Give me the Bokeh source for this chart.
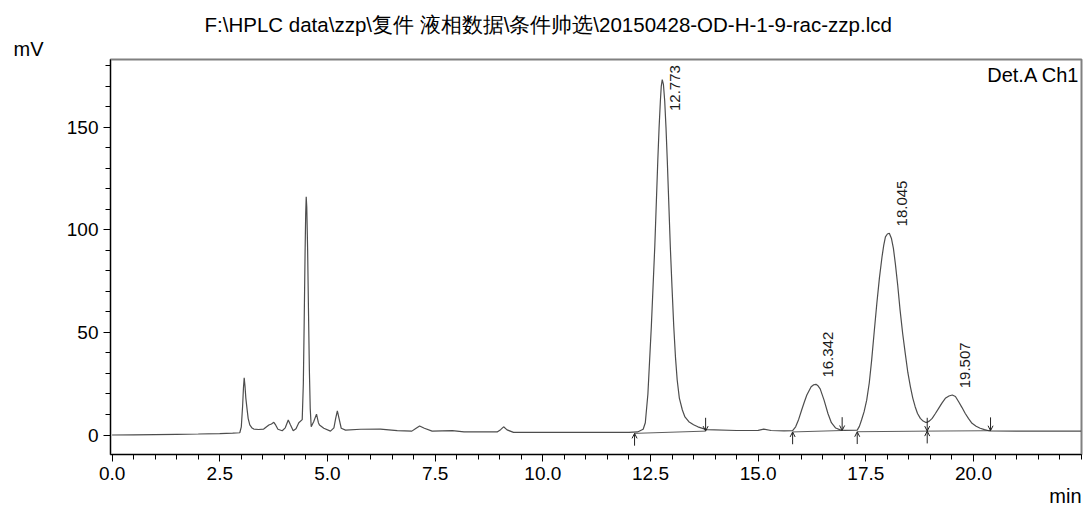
import math
from bokeh.plotting import figure
from bokeh.models import (Range1d, FixedTicker, NumeralTickFormatter, Label, Title,
                          Arrow, OpenHead, ColumnDataSource)
from bokeh.core.properties import value
from bokeh.embed import file_html
from bokeh.resources import INLINE

# ---------------- data ----------------
time_min = [0.0, 0.5, 1.0, 1.5, 2.0, 2.5, 2.8, 2.965, 3.00, 3.03, 3.05, 3.067,
            3.085, 3.105, 3.137, 3.16, 3.197, 3.25, 3.29, 3.40, 3.52, 3.64,
            3.70, 3.755, 3.80, 3.85, 3.95, 4.02, 4.09, 4.14, 4.205, 4.27,
            4.335, 4.414, 4.44, 4.46, 4.48, 4.495, 4.507, 4.52, 4.54, 4.56,
            4.58, 4.60, 4.623, 4.68, 4.746, 4.79, 4.815, 4.915, 5.07, 5.15,
            5.19, 5.23, 5.27, 5.32, 5.42, 5.77, 6.23, 6.62, 6.96, 7.05, 7.14,
            7.25, 7.43, 7.90, 8.17, 8.94, 9.02, 9.09, 9.17, 9.32, 10.1, 11.65,
            12.0, 12.2, 12.33, 12.38, 12.44, 12.52, 12.60, 12.67, 12.70, 12.73,
            12.75, 12.773, 12.80, 12.83, 12.86, 12.89, 12.96, 13.00, 13.04, 13.08,
            13.12, 13.17, 13.24, 13.30, 13.39, 13.50, 13.60, 13.80, 14.5, 15.0,
            15.13, 15.3, 15.6, 15.80,
            15.87, 15.94, 16.01, 16.07, 16.13, 16.23, 16.29, 16.342, 16.39, 16.44,
            16.53, 16.62, 16.70, 16.80, 16.92, 17.00, 17.30, 17.35, 17.40, 17.46,
            17.52, 17.58, 17.635, 17.695, 17.755, 17.815, 17.875, 17.915, 17.955,
            18.00, 18.045, 18.095, 18.14, 18.185, 18.24, 18.295, 18.355, 18.415,
            18.475, 18.535, 18.59, 18.645, 18.70, 18.765, 18.83, 18.885, 18.925,
            18.98, 19.04, 19.115, 19.19, 19.27, 19.345, 19.43, 19.507, 19.58,
            19.655, 19.73, 19.805, 19.885, 19.965, 20.06, 20.155, 20.255, 20.355,
            20.40, 21.0, 22.5]
signal_mv = [0.0, 0.1, 0.2, 0.35, 0.5, 0.7, 0.9, 1.1, 4.0, 14.0, 23.0, 27.9,
             24.0, 18.0, 12.0, 8.0, 4.9, 3.4, 2.9, 2.7, 2.9, 4.9,
             5.4, 6.2, 4.8, 2.8, 2.1, 3.5, 7.3, 5.0, 2.1, 3.0,
             6.0, 7.5, 25.0, 55.0, 88.0, 108.0, 116.2, 111.0, 90.0, 60.0,
             32.0, 13.0, 4.0, 6.5, 10.2, 6.0, 4.9, 3.3, 1.9, 3.5,
             8.0, 11.8, 8.0, 3.3, 2.4, 2.8, 2.9, 2.1, 1.9, 3.2, 4.4,
             3.3, 1.9, 2.1, 1.5, 1.5, 2.6, 4.0, 2.5, 1.3, 1.3, 1.3,
             1.3, 1.5, 2.8, 6.0, 20.0, 53.0, 92.0, 134.0, 150.0, 163.0,
             170.0, 173.3, 171.0, 163.0, 150.0, 134.0, 92.0, 72.0, 53.0, 38.0,
             26.8, 18.0, 12.2, 8.8, 6.5, 5.0, 4.0, 2.6, 2.2, 2.3,
             2.9, 2.2, 2.0, 2.1,
             4.0, 7.6, 12.2, 16.0, 19.5, 23.5, 24.5, 24.7, 24.0, 22.5,
             17.0, 10.5, 6.0, 3.4, 2.4, 2.3, 2.4, 4.2, 7.3, 11.4,
             17.0, 25.5, 36.5, 50.5, 64.1, 76.5, 86.8, 92.5, 96.6,
             98.0, 98.4, 95.8, 91.0, 83.6, 73.0, 60.9, 49.5, 39.8,
             30.5, 23.5, 18.0, 13.8, 10.5, 8.1, 6.8, 6.2, 6.2,
             6.9, 8.1, 10.5, 13.0, 15.7, 17.9, 19.0, 19.5, 18.8,
             16.2, 13.5, 10.6, 8.0, 5.7, 4.3, 3.3, 2.6, 2.1,
             2.0, 1.9, 1.9]

peak_times = [12.773, 16.342, 18.045, 19.507]
peak_heights = [173.3, 24.7, 98.4, 19.5]
peak_labels = ["12.773", "16.342", "18.045", "19.507"]

start_marks = [12.13, 15.80, 17.30, 18.925]
start_levels = [0.8, 1.5, 1.6, 1.9]
end_marks = [13.78, 16.95, 18.925, 20.395]
end_levels = [1.9, 2.2, 1.9, 2.1]

x_major = [0.0, 2.5, 5.0, 7.5, 10.0, 12.5, 15.0, 17.5, 20.0]
x_minor = [i * 0.5 for i in range(46)]
y_major = [0, 50, 100, 150]
y_minor = [i * 10 for i in range(19)]

title_text = "F:\\HPLC data\\zzp\\复件 液相数据\\条件帅选\\20150428-OD-H-1-9-rac-zzp.lcd"

# ---------------- figure ----------------
X0, X1 = -0.037, 22.507
Y0, Y1 = -9.5, 183.1
W, H = 1083, 510
BL, BR, BT, BB = 110, 2, 59, 56
FONT = "Liberation Sans"

p = figure(width=W, height=H, output_backend="svg", toolbar_location=None,
           title=None,
           x_range=Range1d(X0, X1), y_range=Range1d(Y0, Y1),
           min_border_left=BL, min_border_right=BR, min_border_top=BT,
           min_border_bottom=BB)
p.background_fill_color = "white"
p.border_fill_color = "white"
p.outline_line_color = "#808080"
p.outline_line_width = 2
p.grid.visible = False

for ax in (p.xaxis[0], p.yaxis[0]):
    ax.axis_line_color = "black"
    ax.axis_line_width = 1
    ax.major_tick_line_color = "black"
    ax.minor_tick_line_color = "black"
    ax.major_tick_out = 7
    ax.major_tick_in = 0
    ax.minor_tick_out = 5
    ax.minor_tick_in = 0
    ax.major_label_text_font = FONT
    ax.major_label_text_font_size = "19px"
    ax.major_label_text_color = "black"
    ax.major_label_standoff = 5

p.xaxis[0].ticker = FixedTicker(ticks=x_major, minor_ticks=x_minor)
p.yaxis[0].ticker = FixedTicker(ticks=y_major, minor_ticks=y_minor)
p.xaxis[0].formatter = NumeralTickFormatter(format="0.0")
p.yaxis[0].formatter = NumeralTickFormatter(format="0")

# trace
p.line(time_min, signal_mv, line_color="#4d4d4d", line_width=1.2)

# integration baselines
p.segment(x0=start_marks, y0=start_levels, x1=end_marks, y1=end_levels,
          line_color="#333333", line_width=0.8)

# peak start (up) and end (down) markers
up_src = ColumnDataSource(dict(x=start_marks, y0=[v - 6.0 for v in start_levels],
                               y1=start_levels))
dn_src = ColumnDataSource(dict(x=end_marks, y0=[v + 6.5 for v in end_levels],
                               y1=end_levels))
for src in (up_src, dn_src):
    p.add_layout(Arrow(end=OpenHead(size=5, line_width=1, line_color="#222222"),
                       x_start="x", y_start="y0", x_end="x", y_end="y1",
                       line_color="#222222", line_width=1, source=src))

# peak labels (rotated)
lbl_x = [t + 0.29 for t in peak_times]
lbl_y = [min(h + 3.3, 158.0) for h in peak_heights]
p.text(x=lbl_x, y=lbl_y, text=peak_labels, angle=math.pi / 2,
       text_align="left", text_baseline="middle",
       text_font=value(FONT), text_font_size="15px", text_color="#1a1a1a")

# detector label inside the frame
def tx(cx):
    return X0 + (cx - BL) / (W - BL - BR) * (X1 - X0)

def ty(cy):
    return Y1 - (cy - BT) / (H - BT - BB) * (Y1 - Y0)

p.add_layout(Label(x=tx(1079), y=ty(74), text="Det.A Ch1", text_align="right",
                   text_baseline="alphabetic", text_font=FONT,
                   text_font_size="20px", text_color="black"))

# texts outside the frame as titles
p.add_layout(Title(text="mV", align="left", offset=-97, standoff=0,
                   text_font=FONT, text_font_size="20px", text_font_style="normal",
                   text_color="black"), "above")
p.add_layout(Title(text=title_text, align="left", offset=94, standoff=0,
                   text_font=FONT, text_font_size="20.5px", text_font_style="normal",
                   text_color="black"), "above")
p.add_layout(Title(text="min", align="right", offset=0, standoff=0,
                   text_font=FONT, text_font_size="20px", text_font_style="normal",
                   text_color="black"), "below")

open("out.html", "w").write(file_html(p, INLINE))
